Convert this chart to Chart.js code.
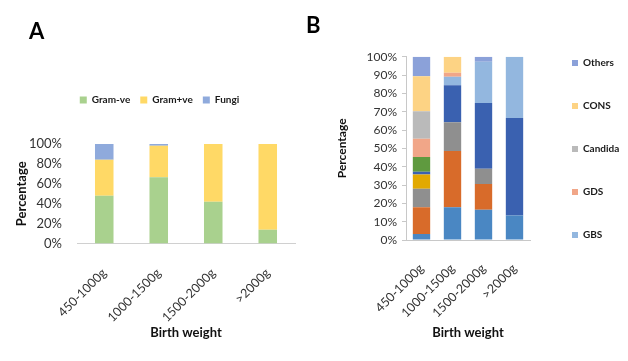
<!DOCTYPE html>
<html>
<head>
<meta charset="utf-8">
<script src="https://cdn.jsdelivr.net/npm/chart.js@4.4.1/dist/chart.umd.min.js"></script>
<style>
  body { margin: 0; background: #fff; }
  #wrap { position: relative; width: 628px; height: 361px; overflow: hidden; background: #fff; }
  canvas { position: absolute; top: 0; }
  #chartA { left: 0; }
  #chartB { left: 300px; }
  .panel { position: absolute; font: bold 22px Lato, sans-serif; color: #000; }
</style>
</head>
<body>
<div id="wrap">
  <canvas id="chartA" width="310" height="361"></canvas>
  <canvas id="chartB" width="328" height="361"></canvas>
  <div class="panel" style="left:29px; top:17px;">A</div>
  <div class="panel" style="left:306px; top:11px;">B</div>
</div>
<script>
const weights = ["450-1000g", "1000-1500g", "1500-2000g", ">2000g"];

// panel A: share of organism group (%)
const gramNeg = [48.0, 66.6, 41.9, 13.9];
const gramPos = [36.1, 31.7, 58.1, 86.1];
const fungi = [15.9, 1.7, 0, 0];

// panel B: share of organisms (%), stacked bottom to top
const group1 = [3.3, 17.8, 16.5, 13.3];
const group2 = [14.5, 30.7, 14.0, 0];
const group3 = [10.2, 15.7, 8.4, 0];
const group4 = [7.8, 0, 0, 0];
const group5 = [1.5, 20.2, 35.8, 53.2];
const group6 = [8.0, 0, 0, 0];
const gbs = [0, 4.7, 22.6, 33.5];
const gds = [10.0, 2.2, 0, 0];
const candida = [14.9, 0, 0, 0];
const cons = [19.1, 8.7, 0, 0];
const others = [10.7, 0, 2.7, 0];

const yTicksA = [0, 20, 40, 60, 80, 100];
const yTicksB = [0, 10, 20, 30, 40, 50, 60, 70, 80, 90, 100];

Chart.defaults.font.family = "Lato, sans-serif";
Chart.defaults.color = "#333333";
Chart.defaults.animation = false;
Chart.defaults.datasets.bar.borderWidth = 0;

// moves the legend box after layout, and lets it have a fixed size
function legendPlacer(place) {
  return {
    id: "legendPlacer",
    beforeInit(chart) {
      const fit = chart.legend.fit;
      chart.legend.fit = function () {
        fit.bind(chart.legend)();
        if (place.width) this.width = place.width;
      };
    },
    afterLayout(chart) {
      const lg = chart.legend;
      if (place.dx) { lg.left += place.dx; lg.right += place.dx; }
      if (place.top !== undefined) { lg.top = place.top; lg.bottom = place.bottom || (place.top + lg.height); }
    },
  };
}

const pct = (v) => v + "%";
const titleFont = (size) => ({ size: size, weight: "bold" });

new Chart(document.getElementById("chartA"), {
  type: "bar",
  data: {
    labels: weights,
    datasets: [
      { label: "Gram-ve", data: gramNeg, backgroundColor: "#a9d18e" },
      { label: "Gram+ve", data: gramPos, backgroundColor: "#ffd966" },
      { label: "Fungi", data: fungi, backgroundColor: "#8faadc" },
    ],
  },
  options: {
    responsive: false,
    barPercentage: 0.34,
    categoryPercentage: 1,
    layout: { padding: { left: 10, right: 15, top: 114, bottom: 16 } },
    plugins: {
      tooltip: { enabled: false },
      legend: {
        position: "top",
        labels: { boxWidth: 7, boxHeight: 7, padding: 10, color: "#1a1a1a", font: { size: 10, weight: "bold" } },
      },
    },
    scales: {
      x: {
        stacked: true,
        grid: { display: false },
        border: { display: true, color: "#d0d0d0" },
        ticks: { minRotation: 45, maxRotation: 45, padding: 14, font: { size: 12.5 } },
        title: { display: true, text: "Birth weight", color: "#111", font: titleFont(13) },
        afterFit: (s) => { s.height = 101.5; },
      },
      y: {
        stacked: true,
        min: 0,
        max: 100,
        grid: { display: false },
        border: { display: false },
        afterBuildTicks: (s) => { s.ticks = yTicksA.map((v) => ({ value: v })); },
        ticks: { padding: 7, callback: pct, font: { size: 13 } },
        title: { display: true, text: "Percentage", color: "#111", font: titleFont(13) },
        afterFit: (s) => { s.width = 67; },
      },
    },
  },
  plugins: [legendPlacer({ top: 85, dx: 7 })],
});

new Chart(document.getElementById("chartB"), {
  type: "bar",
  data: {
    labels: weights,
    datasets: [
      { label: "Group 1", data: group1, backgroundColor: "#4a87c3" },
      { label: "Group 2", data: group2, backgroundColor: "#d86b2a" },
      { label: "Group 3", data: group3, backgroundColor: "#8f8f8f" },
      { label: "Group 4", data: group4, backgroundColor: "#e2a900" },
      { label: "Group 5", data: group5, backgroundColor: "#3a61b0" },
      { label: "Group 6", data: group6, backgroundColor: "#5f9a3f" },
      { label: "GBS", data: gbs, backgroundColor: "#93b7df" },
      { label: "GDS", data: gds, backgroundColor: "#f1a688" },
      { label: "Candida", data: candida, backgroundColor: "#bababa" },
      { label: "CONS", data: cons, backgroundColor: "#fdd384" },
      { label: "Others", data: others, backgroundColor: "#8ba1d9" },
    ],
  },
  options: {
    responsive: false,
    barPercentage: 0.56,
    categoryPercentage: 1,
    layout: { padding: { left: 31, right: 0, top: 56.7, bottom: 16 } },
    plugins: {
      tooltip: { enabled: false },
      legend: {
        position: "right",
        align: "start",
        reverse: true,
        labels: {
          boxWidth: 6,
          boxHeight: 6,
          padding: 33,
          color: "#1a1a1a",
          font: { size: 10, weight: "bold" },
          filter: (item) => item.datasetIndex >= 6,
        },
      },
    },
    scales: {
      x: {
        stacked: true,
        grid: { display: false },
        border: { display: true, color: "#c8c8c8" },
        ticks: { minRotation: 45, maxRotation: 45, padding: 13, font: { size: 12.5 } },
        title: { display: true, text: "Birth weight", color: "#111", font: titleFont(13) },
        afterFit: (s) => { s.height = 105; },
      },
      y: {
        stacked: true,
        min: 0,
        max: 100,
        grid: { display: true, drawOnChartArea: false, drawTicks: true, tickLength: 4, color: "#c8c8c8" },
        border: { display: true, color: "#c8c8c8" },
        afterBuildTicks: (s) => { s.ticks = yTicksB.map((v) => ({ value: v })); },
        ticks: { padding: 5, callback: pct, font: { size: 12 } },
        title: { display: true, text: "Percentage", color: "#111", font: titleFont(12) },
        afterFit: (s) => { s.width = 75; },
      },
    },
  },
  plugins: [legendPlacer({ width: 98, dx: 9, top: 25, bottom: 361 })],
});
</script>
</body>
</html>
